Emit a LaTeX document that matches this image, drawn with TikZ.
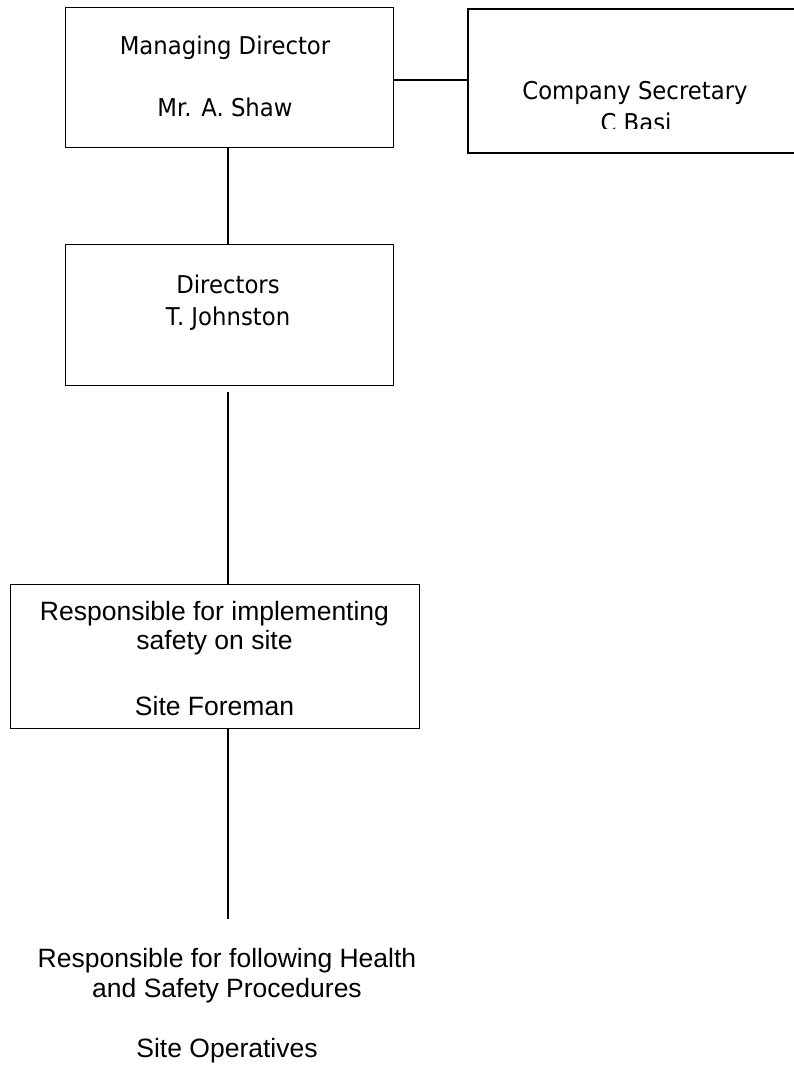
\documentclass[tikz,border=0pt]{standalone}
\usepackage{fontspec}
\setmainfont{Liberation Sans}
\newfontfamily\tahfont{DejaVu Sans}[FakeStretch=0.93]
\newfontfamily\arifont{Liberation Sans}
\begin{document}
\begin{tikzpicture}[x=1pt,y=-1pt,
  box/.style={draw=black,line width=1.3pt,rectangle,inner sep=0pt,anchor=north west},
  conn/.style={draw=black,line width=1.2pt},
  ttext/.style={anchor=base,inner sep=0pt,font=\tahfont\fontsize{24.5}{29}\selectfont},
  atext/.style={anchor=base,inner sep=0pt,font=\arifont\fontsize{26.5}{30}\selectfont}]
\useasboundingbox (0,0) rectangle (793,1078);
% boxes
\node[box,minimum width=328pt,minimum height=140pt] (md) at (65,7) {};
\node[box,line width=1.8pt,minimum width=340pt,minimum height=144pt] (cs) at (467,8) {};
\node[box,minimum width=328pt,minimum height=141pt] (dir) at (65,244) {};
\node[box,minimum width=409pt,minimum height=144pt] (fore) at (10,584) {};
% texts
\node[ttext] (mdt1) at (225,55) {Managing Director};
\node[ttext] (mdt2) at (225,117) {Mr. A. Shaw};
\node[ttext] (dirt1) at (228,293) {Directors};
\node[ttext] (dirt2) at (228,325) {T. Johnston};
\node[ttext] (cst1) at (635,100) {Company Secretary};
\begin{scope}
\clip (467,105) rectangle (793,129);
\node[ttext] (cst2) at (636,132) {C Basi};
\end{scope}
\node[atext] (ft1) at (214.5,620) {Responsible for implementing};
\node[atext] (ft2) at (214.5,649) {safety on site};
\node[atext] (ft3) at (214.5,715) {Site Foreman};
\node[atext] (ot1) at (227,967) {Responsible for following Health};
\node[atext] (ot2) at (227,997) {and Safety Procedures};
\node[atext] (ot3) at (227,1057) {Site Operatives};
% connectors
\coordinate (mdr) at (md.east |- 0,80);
\coordinate (dirbot) at (228,392);
\coordinate (opstop) at (228,919);
\draw[conn] (mdr) -- (cs.west |- mdr);
\draw[conn] (228,0 |- md.south) -- (228,0 |- dir.north);
\draw[conn] (dirbot) -- (dirbot |- fore.north);
\draw[conn] (dirbot |- fore.south) -- (opstop);
\end{tikzpicture}
\end{document}
